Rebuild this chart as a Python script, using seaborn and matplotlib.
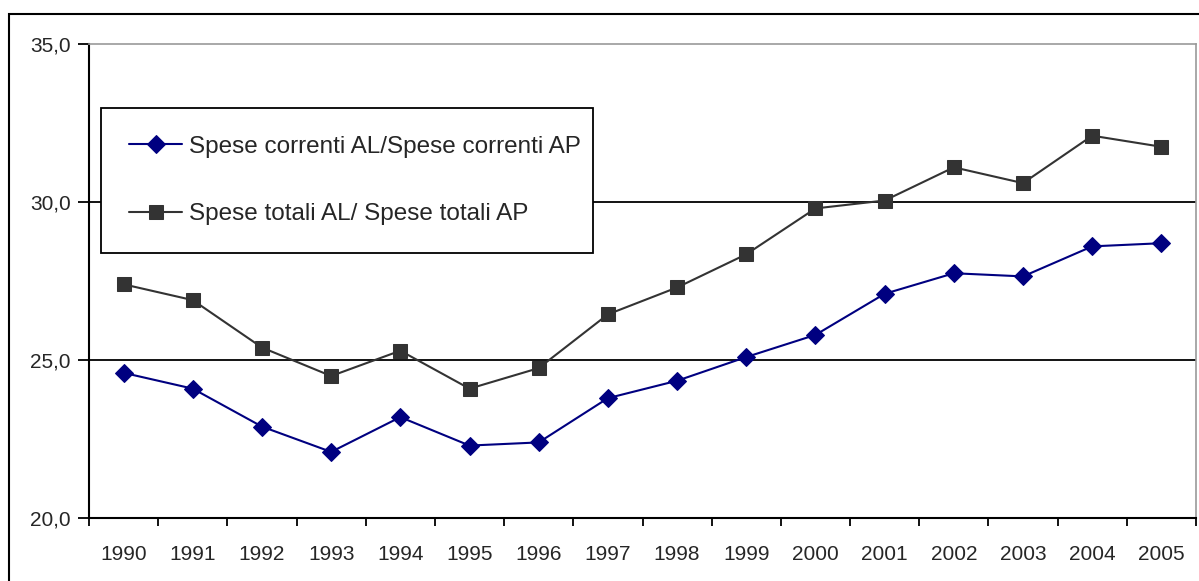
import matplotlib
matplotlib.use("Agg")
import matplotlib.pyplot as plt
import seaborn as sns
import pandas as pd
from matplotlib.patches import Rectangle
from matplotlib.ticker import FixedLocator, NullFormatter

years = ["1990", "1991", "1992", "1993", "1994", "1995", "1996", "1997",
         "1998", "1999", "2000", "2001", "2002", "2003", "2004", "2005"]
spese_correnti = [24.6, 24.1, 22.9, 22.1, 23.2, 22.3, 22.4, 23.8,
                  24.35, 25.1, 25.8, 27.1, 27.75, 27.65, 28.6, 28.7]
spese_totali = [27.4, 26.9, 25.4, 24.5, 25.3, 24.1, 24.75, 26.45,
                27.3, 28.35, 29.8, 30.05, 31.1, 30.6, 32.1, 31.75]
label_correnti = "Spese correnti AL/Spese correnti AP"
label_totali = "Spese totali AL/ Spese totali AP"
y_ticks = [20, 25, 30, 35]
y_ticklabels = ["20,0", "25,0", "30,0", "35,0"]

sns.set_style("white")
plt.rcParams["font.family"] = ["Liberation Sans", "DejaVu Sans"]

df = pd.DataFrame({"pos": list(range(len(years))),
                   "correnti": spese_correnti,
                   "totali": spese_totali})

fig = plt.figure(figsize=(11.99, 5.81), dpi=100)
fig.patch.set_facecolor("white")
# outer chart frame
fig.patches.append(Rectangle((9 / 1199, -0.1), 1.2, 1 - 14 / 581 + 0.1,
                             transform=fig.transFigure, fill=False,
                             edgecolor="black", linewidth=1.5, zorder=0))

ax = fig.add_axes([89 / 1199, 1 - 518.3 / 581, 1107 / 1199, 474.3 / 581])
ax.set_facecolor("white")

for yv in [25, 30]:
    ax.axhline(yv, color="black", linewidth=1.3, zorder=1)

sns.lineplot(data=df, x="pos", y="correnti", ax=ax, color="#000080",
             marker="D", markersize=9, markeredgecolor="#000080",
             linewidth=1.5, label=label_correnti, zorder=3)
sns.lineplot(data=df, x="pos", y="totali", ax=ax, color="#333333",
             marker="s", markersize=10, markeredgecolor="#333333",
             linewidth=1.5, label=label_totali, zorder=3)

ax.set_xlim(-0.5, len(years) - 0.5)
ax.set_ylim(20, 35)
ax.set_xlabel("")
ax.set_ylabel("")

ax.set_xticks(range(len(years)))
ax.set_xticklabels(years, fontsize=15)
ax.xaxis.set_minor_locator(FixedLocator([i - 0.5 for i in range(len(years) + 1)]))
ax.xaxis.set_minor_formatter(NullFormatter())
ax.tick_params(axis="x", which="major", length=0, pad=19)
ax.tick_params(axis="x", which="minor", length=6, width=1.3, color="black",
               direction="out", bottom=True)
ax.set_yticks(y_ticks)
ax.set_yticklabels(y_ticklabels, fontsize=15)
ax.tick_params(axis="y", length=8, width=1.3, color="black", direction="out",
               left=True, pad=5)

for s in ["left", "bottom"]:
    ax.spines[s].set_color("black")
    ax.spines[s].set_linewidth(1.5)
for s in ["top", "right"]:
    ax.spines[s].set_color("#999999")
    ax.spines[s].set_linewidth(1.2)

leg_bottom = (518.3 - 250) / 474.3
leg_top = (518.3 - 108) / 474.3
leg = ax.legend(loc="upper left",
                bbox_to_anchor=(12 / 1107, leg_bottom, 492 / 1107, leg_top - leg_bottom),
                mode="expand", fontsize=17.5, frameon=True, fancybox=False,
                edgecolor="black", framealpha=1, borderpad=1.15,
                labelspacing=1.87, handlelength=2.2, handletextpad=0.25,
                borderaxespad=0)
leg.get_frame().set_linewidth(1.3)

fig.savefig("out.png", dpi=100, facecolor="white")
